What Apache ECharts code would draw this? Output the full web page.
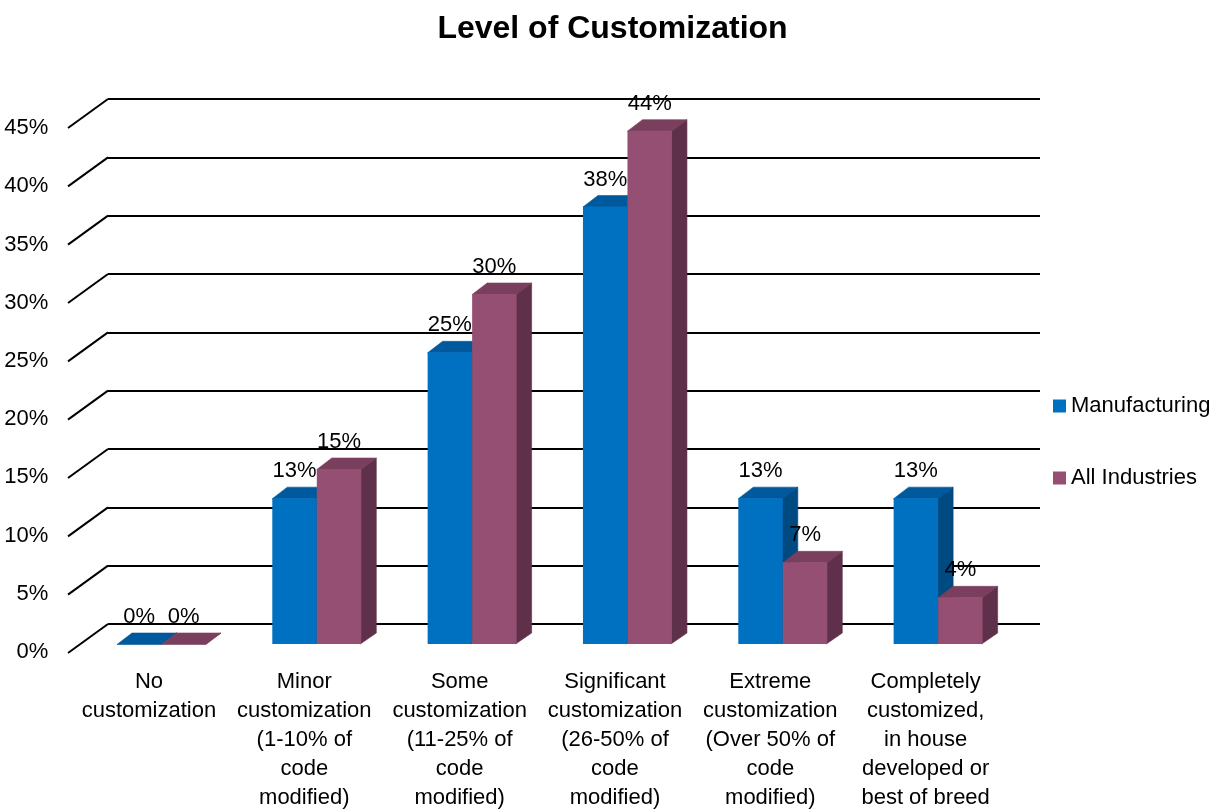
<!DOCTYPE html>
<html><head><meta charset="utf-8">
<script src="https://cdn.jsdelivr.net/npm/echarts@6/dist/echarts.min.js"></script>
<style>html,body{margin:0;padding:0;background:#fff}#c{width:1225px;height:812px}</style>
</head><body><div id="c"></div>
<script>
const categories = [
  "No\ncustomization",
  "Minor\ncustomization\n(1-10% of\ncode\nmodified)",
  "Some\ncustomization\n(11-25% of\ncode\nmodified)",
  "Significant\ncustomization\n(26-50% of\ncode\nmodified)",
  "Extreme\ncustomization\n(Over 50% of\ncode\nmodified)",
  "Completely\ncustomized,\nin house\ndeveloped or\nbest of breed"
];
const manufacturing = [0, 12.5, 25, 37.5, 12.5, 12.5];
const allIndustries = [0, 15, 30, 44, 7, 4];
const yTicks = [0, 5, 10, 15, 20, 25, 30, 35, 40, 45];
const seriesNames = ["Manufacturing", "All Industries"];

const FONT = "Liberation Sans";
const palettes = [
  {front: "#0070C0", top: "#00599C", side: "#004A82"},
  {front: "#954F72", top: "#7A3F5D", side: "#5F3049"}
];

function barRenderer(si) {
  const pal = palettes[si];
  return function (params, api) {
    const i = api.value(0), v = api.value(1);
    const top = api.coord([i, v]);
    const base = api.coord([i, 0]);
    const W = 44.5, DX = 15, DY = -11;
    const pairCenter = top[0] - 24.2;
    const x = si === 0 ? pairCenter - W : pairCenter;
    const yT = top[1] + 20, yB = base[1] + 20;
    const children = [];
    children.push({type: "polygon", shape: {points: [[x + W - 1, yT], [x + W + DX, yT + DY], [x + W + DX, yB + DY], [x + W - 1, yB]]},
      style: {fill: pal.side, stroke: pal.side, lineWidth: 0.6}});
    children.push({type: "polygon", shape: {points: [[x, yT + 0.5], [x + DX, yT + DY], [x + W + DX, yT + DY], [x + W, yT + 0.5]]},
      style: {fill: pal.top, stroke: pal.top, lineWidth: 0.6}});
    if (yB - yT > 0.5) {
      children.push({type: "rect", shape: {x: x, y: yT, width: W, height: yB - yT}, style: {fill: pal.front}});
    }
    children.push({type: "text", style: {
      text: Math.round(v) + "%", x: x + W / 2, y: yT + DY - 16,
      textAlign: "center", textVerticalAlign: "middle", align: "center", verticalAlign: "middle",
      fontSize: 22, fontFamily: FONT, fill: "#000"
    }});
    return {type: "group", children: children};
  };
}

function diagRenderer(params, api) {
  const p = api.coord([0, api.value(1)]);
  const x0 = params.coordSys.x;
  return {type: "line", shape: {x1: x0, y1: p[1], x2: x0 - 40, y2: p[1] + 29},
    style: {stroke: "#000", lineWidth: 2}};
}

const chart = echarts.init(document.getElementById("c"));
chart.setOption({
  animation: false,
  backgroundColor: "#fff",
  title: {text: "Level of Customization", left: "center", top: 8,
    textStyle: {fontSize: 32, fontWeight: "bold", fontFamily: FONT, color: "#000"}},
  legend: {orient: "vertical", left: 1053, top: 395, itemWidth: 13, itemHeight: 13, itemGap: 50, padding: 0,
    icon: "rect", data: seriesNames,
    textStyle: {fontSize: 22, fontFamily: FONT, color: "#000"}},
  grid: [
    {left: 108, width: 932, top: 99, height: 525},
    {left: 71.3, width: 932, top: 128, height: 525}
  ],
  xAxis: [
    {gridIndex: 0, type: "category", data: categories, axisLine: {show: false}, axisTick: {show: false}, axisLabel: {show: false}, splitLine: {show: false}},
    {gridIndex: 1, type: "category", data: categories, axisLine: {show: false}, axisTick: {show: false}, splitLine: {show: false},
      axisLabel: {interval: 0, margin: 15, fontSize: 22, lineHeight: 29, fontFamily: FONT, color: "#000", align: "center"}}
  ],
  yAxis: [
    {gridIndex: 0, type: "value", min: 0, max: 45, interval: 5, axisLine: {show: false}, axisTick: {show: false}, axisLabel: {show: false},
      splitLine: {show: true, lineStyle: {color: "#000", width: 2}}},
    {gridIndex: 1, type: "value", min: 0, max: 45, interval: 5, axisLine: {show: false}, axisTick: {show: false}, splitLine: {show: false},
      axisLabel: {formatter: "{value}%", margin: 23, fontSize: 22, fontFamily: FONT, color: "#000"}}
  ],
  series: [
    {type: "custom", name: "diag", xAxisIndex: 0, yAxisIndex: 0, silent: true,
      data: yTicks.map(function (v) { return [0, v]; }), renderItem: diagRenderer},
    {type: "custom", name: seriesNames[0], xAxisIndex: 0, yAxisIndex: 0, itemStyle: {color: palettes[0].front},
      data: manufacturing.map(function (v, i) { return [i, v]; }), renderItem: barRenderer(0)},
    {type: "custom", name: seriesNames[1], xAxisIndex: 0, yAxisIndex: 0, itemStyle: {color: palettes[1].front},
      data: allIndustries.map(function (v, i) { return [i, v]; }), renderItem: barRenderer(1)}
  ]
});
</script>
</body></html>
